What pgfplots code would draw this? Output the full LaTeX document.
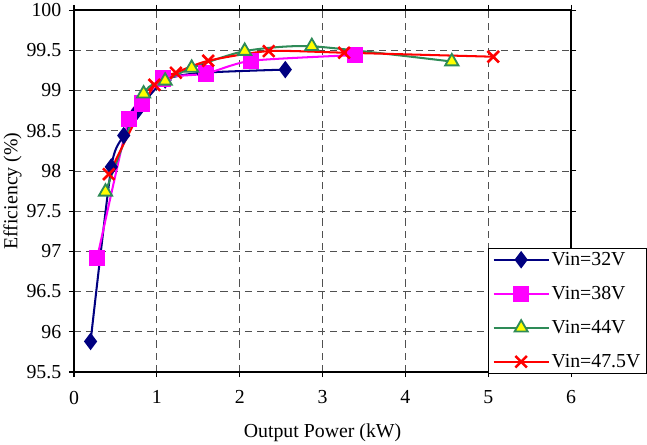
\documentclass[border=0pt]{standalone}
\usepackage{pgfplots}
\pgfplotsset{compat=1.18}
\usepackage{fontspec}
\setmainfont{Liberation Serif}

\definecolor{navyblue}{RGB}{0,0,128}
\definecolor{mag}{RGB}{255,0,255}
\definecolor{sgreen}{RGB}{46,139,87}
\definecolor{yel}{RGB}{255,255,0}
\definecolor{gridgray}{RGB}{80,80,80}

\begin{document}
\begin{tikzpicture}
\begin{axis}[
scale only axis,
width=489pt, height=356pt,
xmin=0, xmax=6,
ymin=95.5, ymax=100,
xtick={0,1,2,3,4,5,6},
ytick={95.5,96,96.5,97,97.5,98,98.5,99,99.5,100},
yticklabels={95.5,96,96.5,97,97.5,98,98.5,99,99.5,100},
/pgf/number format/assume math mode=true,
tick align=outside,
major tick length=5pt,
tick style={black, line width=1pt},
axis line style={black, line width=1.6pt},
xmajorgrids, ymajorgrids,
major grid style={gridgray, line width=0.8pt, dash pattern=on 7pt off 5pt},
ticklabel style={font=\fontsize{19.5}{21}\selectfont},
label style={font=\fontsize{19.5}{21}\selectfont},
xticklabel style={yshift=-10pt},
yticklabel style={xshift=-4pt},
xlabel={Output Power (kW)},
ylabel={Efficiency (\%)},
xlabel style={yshift=-12pt},
ylabel style={yshift=-2pt},
legend cell align={left},
legend style={
  at={(0.833,0.343)}, anchor=north west,
  draw=black, line width=1pt, fill=white,
  font=\fontsize{19.5}{21}\selectfont,
  row sep=15pt, inner xsep=4pt, inner ysep=2pt
},
legend image code/.code={
  \draw[mark repeat=2, mark phase=2, #1] plot coordinates {(0pt,0pt) (27pt,0pt) (54pt,0pt)};
},
]
\addplot [navyblue, line width=2pt, smooth, tension=0.4, mark=diamond*, mark size=7pt, mark options={solid, fill=navyblue, draw=navyblue}]
table {%
0.20 95.88
0.45 98.05
0.60 98.44
0.76 98.74
1.10 99.13
1.55 99.22
2.55 99.26
};
\addlegendentry{Vin=32V}
\addplot [mag, line width=2pt, smooth, tension=0.4, mark=square*, mark size=7pt, mark options={solid, fill=mag, draw=mag}]
table {%
0.28 96.92
0.66 98.65
0.82 98.84
1.07 99.15
1.59 99.21
2.14 99.37
3.39 99.44
};
\addlegendentry{Vin=38V}
\addplot [sgreen, line width=2pt, smooth, tension=0.4, mark=triangle*, mark size=7.5pt, mark options={solid, fill=yel, draw=sgreen, line width=1.8pt}]
table {%
0.38 97.74
0.84 98.96
1.10 99.12
1.42 99.28
2.06 99.49
2.87 99.55
4.56 99.36
};
\addlegendentry{Vin=44V}
\addplot [red, line width=2pt, smooth, tension=0.4, mark=x, mark size=8pt, mark options={solid, draw=red, line width=2.5pt}]
table {%
0.42 97.96
0.97 99.07
1.23 99.22
1.62 99.37
2.35 99.49
3.26 99.47
5.06 99.42
};
\addlegendentry{Vin=47.5V}
\end{axis}
\end{tikzpicture}
\end{document}
